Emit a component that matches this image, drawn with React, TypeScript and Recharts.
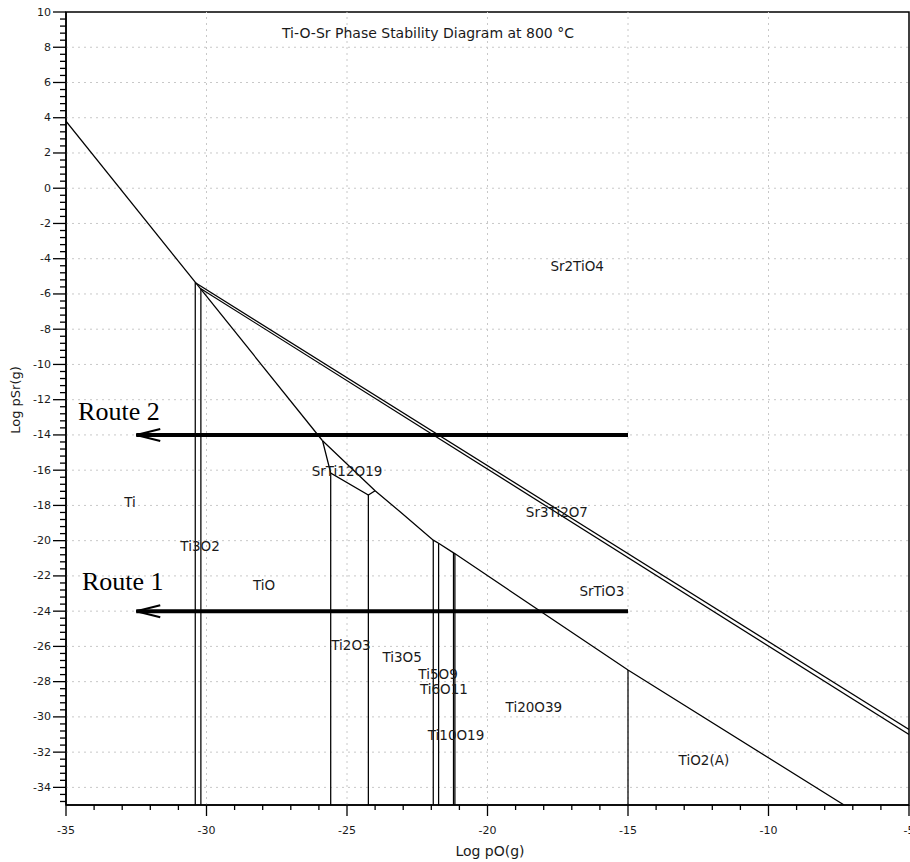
import React from 'react';
import {
  ComposedChart,
  Line,
  Scatter,
  XAxis,
  YAxis,
  ReferenceLine,
  ReferenceArea,
} from 'recharts';

const xMajor = [-35, -30, -25, -20, -15, -10, -5];
const yMajor = [10, 8, 6, 4, 2, 0, -2, -4, -6, -8, -10, -12, -14, -16, -18, -20, -22, -24, -26, -28, -30, -32, -34];
const xGrid = [-30, -25, -20, -15, -10];

// minor ticks: 1 unit on x, 0.4 on y
const xTicks: number[] = [];
for (let v = xMajor[0]; v <= xMajor[xMajor.length - 1]; v += 1) xTicks.push(v);
const yTicks: number[] = [];
yMajor.forEach((m) => {
  for (let k = 0; k < 5; k++) {
    const v = +(m - k * 0.4).toFixed(1);
    if (v >= -35) yTicks.push(v);
  }
});

// phase boundaries
const steepLine = [
  { x: -35, y: 3.8 },
  { x: -25.87, y: -14.33 },
];
const doubleUpper = [
  { x: -30.38, y: -5.38 },
  { x: -5, y: -30.72 },
];
const doubleLower = [
  { x: -30.2, y: -5.7 },
  { x: -5, y: -31.0 },
];
const lowerBoundary = [
  { x: -25.87, y: -14.33 },
  { x: -24.0, y: -17.17 },
  { x: -23.11, y: -18.36 },
  { x: -21.93, y: -19.97 },
  { x: -21.74, y: -20.15 },
  { x: -21.18, y: -20.72 },
  { x: -15, y: -27.34 },
  { x: -7.31, y: -35 },
];
const srTi12Edge = [
  { x: -25.87, y: -14.33 },
  { x: -25.58, y: -16.16 },
  { x: -24.24, y: -17.41 },
  { x: -24.0, y: -17.17 },
];
const verticalX = [-30.4, -30.2, -25.58, -24.24, -21.93, -21.74, -21.21, -21.16, -15];
const verticalTop = [-5.33, -5.7, -16.16, -17.41, -19.97, -20.15, -20.7, -20.74, -27.34];
const verticals = verticalX.map((x, i) => [
  { x, y: -35 },
  { x, y: verticalTop[i] },
]);

// routes
const route2 = [
  { x: -32.5, y: -14 },
  { x: -15, y: -14 },
];
const route1 = [
  { x: -32.5, y: -24 },
  { x: -15, y: -24 },
];

const phaseLabels = [
  { x: -16.81, y: -4.42, name: 'Sr2TiO4' },
  { x: -25.0, y: -16.05, name: 'SrTi12O19' },
  { x: -32.72, y: -17.81, name: 'Ti' },
  { x: -17.53, y: -18.38, name: 'Sr3Ti2O7' },
  { x: -30.23, y: -20.31, name: 'Ti3O2' },
  { x: -27.95, y: -22.52, name: 'TiO' },
  { x: -15.93, y: -22.86, name: 'SrTiO3' },
  { x: -24.86, y: -25.93, name: 'Ti2O3' },
  { x: -23.04, y: -26.61, name: 'Ti3O5' },
  { x: -21.76, y: -27.57, name: 'Ti5O9' },
  { x: -21.55, y: -28.42, name: 'Ti6O11' },
  { x: -18.35, y: -29.44, name: 'Ti20O39' },
  { x: -21.12, y: -31.03, name: 'Ti10O19' },
  { x: -12.3, y: -32.45, name: 'TiO2(A)' },
];
const routeLabels = [
  { x: -34.57, y: -13.16, name: 'Route 2' },
  { x: -34.43, y: -22.8, name: 'Route 1' },
];

const SANS = '"DejaVu Sans", Verdana, sans-serif';
const TEXT = '#1a1a1a';

const XTick = (props: any) => {
  const { x, y, payload } = props;
  const v = payload.value;
  const major = Math.abs(v % 5) < 1e-6;
  return (
    <g>
      <line x1={x} x2={x} y1={y} y2={y + (major ? 11 : 5)} stroke="#000" strokeWidth={1.3} />
      {major && (
        <text x={x} y={y + 29} textAnchor="middle" fontSize={11} fontFamily={SANS} fill={TEXT}>
          {v}
        </text>
      )}
    </g>
  );
};

const YTick = (props: any) => {
  const { x, y, payload } = props;
  const v = payload.value;
  const major = Math.abs(v - Math.round(v / 2) * 2) < 1e-6;
  return (
    <g>
      <line x1={x - (major ? 13 : 6)} x2={x} y1={y} y2={y} stroke="#000" strokeWidth={1.3} />
      {major && (
        <text x={x - 15} y={y} textAnchor="end" dominantBaseline="central" fontSize={11} fontFamily={SANS} fill={TEXT}>
          {v}
        </text>
      )}
    </g>
  );
};

const PhaseText = (props: any) => (
  <text
    x={props.cx}
    y={props.cy}
    textAnchor="middle"
    dominantBaseline="central"
    fontSize={13.5}
    fontFamily={SANS}
    fill={TEXT}
  >
    {props.payload.name}
  </text>
);

const RouteText = (props: any) => (
  <text x={props.cx} y={props.cy} textAnchor="start" fontSize={26} fontFamily='"Liberation Serif", "Times New Roman", serif' fill="#000">
    {props.payload.name}
  </text>
);

const ArrowDot = (props: any) => {
  const { cx, cy, index } = props;
  if (index !== 0) return <g key={`d${index}`} />;
  return (
    <path
      key={`d${index}`}
      d={`M${cx + 24},${cy - 6} L${cx},${cy} L${cx + 24},${cy + 6}`}
      stroke="#000"
      strokeWidth={2}
      fill="none"
    />
  );
};

export default function App() {
  const thin = { stroke: '#000', strokeWidth: 1.25, dot: false, isAnimationActive: false, type: 'linear' as const, dataKey: 'y' };
  return (
    <div style={{ position: 'absolute', left: 0, top: 0, width: 910, height: 862, background: '#fff' }}>
      <ComposedChart width={910} height={862} margin={{ top: 12, right: 1, left: 0, bottom: 0 }}>
        <XAxis
          dataKey="x"
          type="number"
          domain={[-35, -5]}
          allowDataOverflow
          ticks={xTicks}
          interval={0}
          tick={<XTick />}
          tickLine={false}
          tickSize={0}
          tickMargin={0}
          height={57}
          axisLine={{ stroke: '#000', strokeWidth: 1.5 }}
        />
        <YAxis
          type="number"
          domain={[-35, 10]}
          allowDataOverflow
          ticks={yTicks}
          interval={0}
          tick={<YTick />}
          tickLine={false}
          tickSize={0}
          tickMargin={0}
          width={66}
          axisLine={{ stroke: '#000', strokeWidth: 1.5 }}
        />
        {yMajor.filter((v) => v < 10).map((v) => (
          <ReferenceLine key={`gy${v}`} y={v} stroke="#c8c8c8" strokeDasharray="2 4" />
        ))}
        {xGrid.map((v) => (
          <ReferenceLine key={`gx${v}`} x={v} stroke="#c8c8c8" strokeDasharray="2 4" />
        ))}
        <ReferenceArea x1={-35} x2={-5} y1={-35} y2={10} stroke="#000" strokeWidth={1.5} fill="none" />

        <Line data={steepLine} {...thin} />
        <Line data={doubleUpper} {...thin} />
        <Line data={doubleLower} {...thin} />
        <Line data={lowerBoundary} {...thin} />
        <Line data={srTi12Edge} {...thin} />
        {verticals.map((seg, i) => (
          <Line key={`v${i}`} data={seg} {...thin} />
        ))}

        <Line data={route2} dataKey="y" type="linear" stroke="#000" strokeWidth={4} dot={<ArrowDot />} isAnimationActive={false} />
        <Line data={route1} dataKey="y" type="linear" stroke="#000" strokeWidth={4} dot={<ArrowDot />} isAnimationActive={false} />

        <Scatter data={phaseLabels} dataKey="y" shape={<PhaseText />} isAnimationActive={false} />
        <Scatter data={routeLabels} dataKey="y" shape={<RouteText />} isAnimationActive={false} />
      </ComposedChart>
      <div
        style={{
          position: 'absolute',
          left: 428,
          top: 33,
          transform: 'translate(-50%, -50%)',
          whiteSpace: 'nowrap',
          fontFamily: SANS,
          fontSize: 14,
          color: TEXT,
        }}
      >
        Ti-O-Sr Phase Stability Diagram at 800 °C
      </div>
      <div
        style={{
          position: 'absolute',
          left: 490,
          top: 851,
          transform: 'translate(-50%, -50%)',
          whiteSpace: 'nowrap',
          fontFamily: SANS,
          fontSize: 14,
          color: TEXT,
        }}
      >
        Log pO(g)
      </div>
      <div
        style={{
          position: 'absolute',
          left: 15,
          top: 400,
          transform: 'translate(-50%, -50%) rotate(-90deg)',
          whiteSpace: 'nowrap',
          fontFamily: SANS,
          fontSize: 13,
          color: TEXT,
        }}
      >
        Log pSr(g)
      </div>
    </div>
  );
}
